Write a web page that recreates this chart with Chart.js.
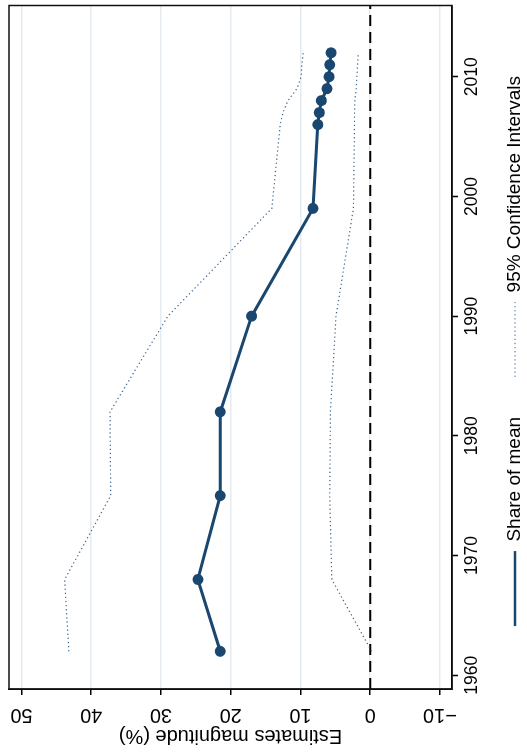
<!DOCTYPE html>
<html>
<head>
<meta charset="utf-8">
<script src="https://cdn.jsdelivr.net/npm/chart.js@4.4.1/dist/chart.umd.min.js"></script>
<style>
    html, body { margin: 0; padding: 0; background: #fff; overflow: hidden; }
    /* chart is drawn landscape, then turned a quarter left like the figure */
    #wrap {
        position: absolute; left: 0; top: 0;
        width: 755px; height: 527px;
        transform-origin: 0 0;
        transform: translate(0px, 755px) rotate(-90deg);
    }
    #chart { display: block; }
</style>
</head>
<body>
<div id="wrap"><canvas id="chart" width="755" height="527"></canvas></div>
<script>
// ==== DATA ====
const years = [1962, 1968, 1975, 1982, 1990, 1999, 2006, 2007, 2008, 2009, 2010, 2011, 2012];
const shareOfMean = [21.5, 24.7, 21.5, 21.5, 17.0, 8.2, 7.5, 7.3, 7.0, 6.2, 5.9, 5.8, 5.6];
const ciUpper = [43.2, 43.8, 37.2, 37.3, 29.0, 14.1, 12.9, 12.5, 11.8, 10.5, 9.9, 9.8, 9.6];
const ciLower = [-0.2, 5.5, 5.8, 5.7, 4.9, 2.4, 2.25, 2.25, 2.2, 2.0, 1.9, 1.8, 1.7];

const yearTicks = [1960, 1970, 1980, 1990, 2000, 2010];
const valueTicks = [-10, 0, 10, 20, 30, 40, 50];
const yearRange = [1958.85, 2015.95];
const valueRange = [-11.73, 51.78];
const zeroValue = 0;

const NAVY = "#1a476f";
const CI_COLOR = "#3f6890";
const FONT = '"Liberation Sans", Arial, Helvetica, sans-serif';

Chart.defaults.font.family = FONT;
Chart.defaults.color = "#000";

function points(vals) {
    return years.map((yr, i) => ({ x: yr, y: vals[i] }));
}

// ==== PLUGINS ====
// dashed reference line at 0
const zeroLine = {
    id: "zeroLine",
    beforeDatasetsDraw(chart) {
        const { ctx, chartArea, scales } = chart;
        const py = scales.y.getPixelForValue(zeroValue);
        ctx.save();
        ctx.strokeStyle = "#000";
        ctx.lineWidth = 2;
        ctx.setLineDash([11, 6]);
        ctx.beginPath();
        ctx.moveTo(chartArea.left, py);
        ctx.lineTo(chartArea.right, py);
        ctx.stroke();
        ctx.restore();
    },
};

// plot region outline
const plotFrame = {
    id: "plotFrame",
    afterDraw(chart) {
        const { ctx, chartArea } = chart;
        ctx.save();
        ctx.strokeStyle = "#111";
        ctx.lineWidth = 1.5;
        ctx.strokeRect(chartArea.left, chartArea.top, chartArea.right - chartArea.left, chartArea.bottom - chartArea.top);
        ctx.restore();
    },
};

// legend sits a bit right of canvas centre and closer to the edge
// (only the top moves up, so the legend's clip box still holds the row)
const legendShift = {
    id: "legendShift",
    afterLayout(chart) {
        const lg = chart.legend;
        lg.left += 27;
        lg.right += 27;
        lg.top -= 18.5;
    },
};

// legend keys: line samples with the dataset's own width and dash
function legendLabels(chart) {
    const items = Chart.defaults.plugins.legend.labels.generateLabels(chart);
    return items
        .filter((it) => it.datasetIndex !== 2)
        .map((it) => {
            const ds = chart.data.datasets[it.datasetIndex];
            it.lineWidth = ds.legendWidth;
            it.lineDash = ds.borderDash || [];
            it.strokeStyle = ds.borderColor;
            it.pointStyle = "line";
            return it;
        });
}

new Chart(document.getElementById("chart"), {
    type: "line",
    data: {
        datasets: [
            {
                label: "Share of mean",
                data: points(shareOfMean),
                borderColor: NAVY,
                backgroundColor: NAVY,
                borderWidth: 3,
                legendWidth: 2.6,
                pointRadius: 5.5,
                pointBorderWidth: 0,
                pointBackgroundColor: NAVY,
            },
            {
                label: "95% Confidence Intervals",
                data: points(ciUpper),
                borderColor: CI_COLOR,
                backgroundColor: CI_COLOR,
                borderWidth: 1.2,
                legendWidth: 1.2,
                borderDash: [1.3, 2.8],
                pointRadius: 0,
            },
            {
                label: "95% Confidence Intervals",
                data: points(ciLower),
                borderColor: CI_COLOR,
                backgroundColor: CI_COLOR,
                borderWidth: 1.2,
                legendWidth: 1.2,
                borderDash: [1.3, 2.8],
                pointRadius: 0,
            },
        ],
    },
    options: {
        responsive: false,
        animation: false,
        devicePixelRatio: 1,
        layout: { padding: { top: 9, right: 1, left: 0, bottom: 0 } },
        plugins: {
            tooltip: { enabled: false },
            legend: {
                position: "bottom",
                maxHeight: 43,
                labels: {
                    generateLabels: legendLabels,
                    usePointStyle: true,
                    pointStyleWidth: 75,
                    padding: 40,
                    color: "#000",
                    font: { size: 19 },
                },
            },
        },
        scales: {
            x: {
                type: "linear",
                min: yearRange[0],
                max: yearRange[1],
                afterBuildTicks: (scale) => {
                    scale.ticks = yearTicks.map((v) => ({ value: v }));
                },
                afterFit: (scale) => {
                    scale.height = 32;
                    scale.paddingLeft = 0;
                    scale.paddingRight = 0;
                },
                ticks: {
                    autoSkip: false,
                    maxRotation: 0,
                    padding: 4,
                    font: { size: 17.5 },
                    callback: (v) => String(v),
                },
                grid: {
                    drawOnChartArea: false,
                    drawTicks: true,
                    tickLength: 6,
                    tickColor: "#000",
                    tickWidth: 1.5,
                },
                border: { color: "#000", width: 1.5 },
            },
            y: {
                type: "linear",
                min: valueRange[0],
                max: valueRange[1],
                afterBuildTicks: (scale) => {
                    scale.ticks = valueTicks.map((v) => ({ value: v }));
                },
                afterFit: (scale) => {
                    scale.width = 66;
                    scale.paddingTop = 0;
                    scale.paddingBottom = 0;
                },
                ticks: {
                    autoSkip: false,
                    minRotation: 90,
                    maxRotation: 90,
                    crossAlign: "center",
                    padding: 2.5,
                    font: { size: 20 },
                    callback: (v) => (v < 0 ? "\u2212" + Math.abs(v) : String(v)),
                },
                grid: {
                    color: "#e4ecf1",
                    lineWidth: 1.5,
                    tickLength: 6,
                    tickColor: "#000",
                    tickWidth: 1.5,
                },
                border: { color: "#000", width: 1.5 },
                title: {
                    display: true,
                    text: "Estimates magnitude (%)",
                    font: { size: 20 },
                    padding: { top: 7, bottom: 0 },
                },
            },
        },
    },
    plugins: [zeroLine, plotFrame, legendShift],
});
</script>
</body>
</html>
